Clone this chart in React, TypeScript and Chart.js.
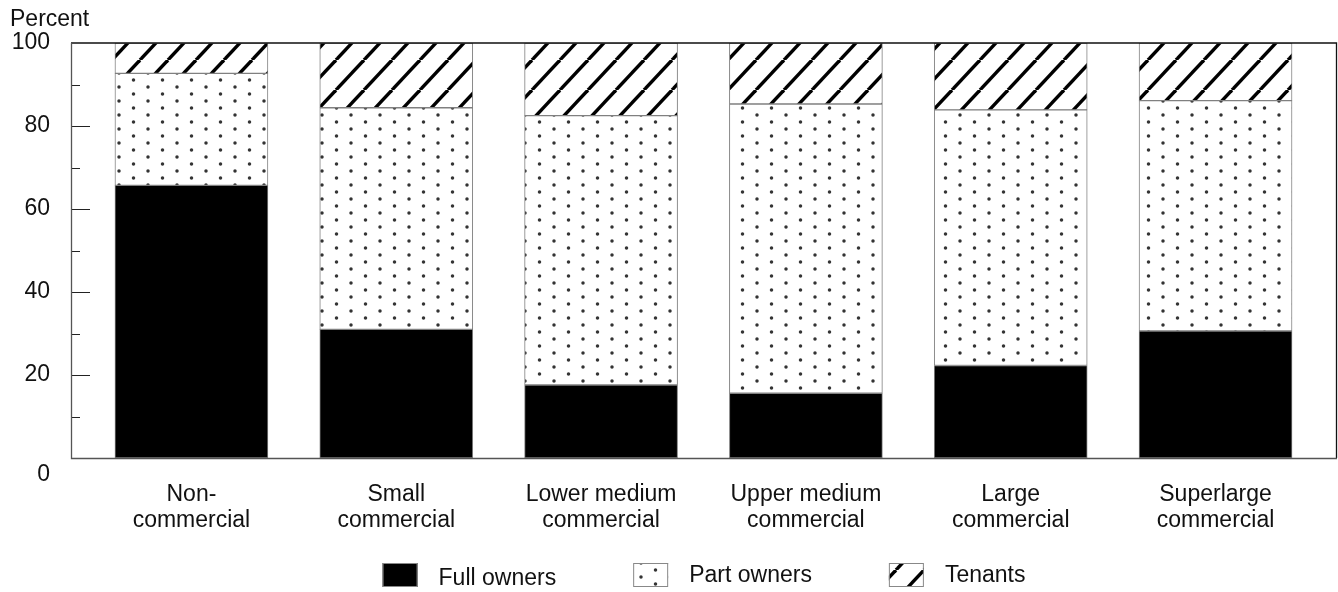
import React, { useEffect, useRef } from "react";
import { Chart, registerables } from "chart.js";

Chart.register(...registerables);

const categories: string[][] = [
  ["Non-", "commercial"],
  ["Small", "commercial"],
  ["Lower medium", "commercial"],
  ["Upper medium", "commercial"],
  ["Large", "commercial"],
  ["Superlarge", "commercial"],
];
const fullOwners = [65.7, 31.0, 17.6, 15.6, 22.3, 30.6];
const partOwners = [27.0, 53.4, 64.9, 69.7, 61.6, 55.5];
const tenants = [7.3, 15.6, 17.5, 14.7, 16.1, 13.9];
const seriesNames = ["Full owners", "Part owners", "Tenants"];
const yTickValues = [20, 40, 60, 80, 100];
const yAxisTitle = "Percent";

const FONT = "'Liberation Sans', Arial, sans-serif";
const FS = 23;
const TXT = "#111";

function makeDots(): CanvasPattern | string {
  const c = document.createElement("canvas");
  const W = 29, H = 14;
  c.width = W; c.height = H;
  const g = c.getContext("2d")!;
  g.fillStyle = "#fff";
  g.fillRect(0, 0, W, H);
  g.fillStyle = "#333";
  const pts = [[3, 3], [17.5, 10]];
  for (const [x, y] of pts) {
    g.beginPath();
    g.arc(x, y, 1.75, 0, Math.PI * 2);
    g.fill();
  }
  return g.createPattern(c, "repeat") || "#fff";
}

function makeHatch(): CanvasPattern | string {
  const c = document.createElement("canvas");
  const W = 28, H = 30;
  c.width = W; c.height = H;
  const g = c.getContext("2d")!;
  g.fillStyle = "#fff";
  g.fillRect(0, 0, W, H);
  g.strokeStyle = "#000";
  g.lineWidth = 3.4;
  for (const off of [-W, 0, W]) {
    g.beginPath();
    g.moveTo(off, H);
    g.lineTo(off + W, 0);
    g.stroke();
  }
  return g.createPattern(c, "repeat") || "#fff";
}

export default function App() {
  const ref = useRef<HTMLCanvasElement | null>(null);

  useEffect(() => {
    const canvas = ref.current;
    if (!canvas) return;
    const dots = makeDots();
    const hatch = makeHatch();
    const fills = ["#000", dots, hatch];

    const framePlugin = {
      id: "frame",
      afterDraw(chart: any) {
        const { ctx, chartArea } = chart;
        const y = chart.scales.y;
        const { left, right, top, bottom } = chartArea;
        ctx.save();
        for (let v = 10; v <= 90; v += 10) {
          const py = Math.round(y.getPixelForValue(v)) + 0.5;
          ctx.strokeStyle = "#222";
          ctx.lineWidth = 1;
          ctx.beginPath();
          ctx.moveTo(left, py);
          ctx.lineTo(left + (v % 20 === 0 ? 19 : 9), py);
          ctx.stroke();
        }
        ctx.lineWidth = 1.3;
        ctx.strokeStyle = "#111";
        ctx.beginPath();
        ctx.moveTo(left, top);
        ctx.lineTo(right - 0.5, top);
        ctx.lineTo(right - 0.5, bottom);
        ctx.stroke();
        ctx.strokeStyle = "#555";
        ctx.beginPath();
        ctx.moveTo(left + 0.5, top);
        ctx.lineTo(left + 0.5, bottom + 0.5);
        ctx.lineTo(right, bottom + 0.5);
        ctx.stroke();

        ctx.fillStyle = TXT;
        ctx.font = `${FS}px ${FONT}`;
        ctx.textAlign = "right";
        ctx.textBaseline = "middle";
        ctx.fillText("0", left - 21, y.getPixelForValue(0) + 17);

        ctx.textAlign = "left";
        ctx.fillText(yAxisTitle, 10, 20);

        const boxW = 35, boxH = 24, gap = 21, itemGap = 77;
        const widths = seriesNames.map((n) => ctx.measureText(n).width);
        const total = widths.reduce((a, w) => a + boxW + gap + w, 0) + itemGap * (seriesNames.length - 1);
        let x = (left + right) / 2 - total / 2;
        const by = 563;
        seriesNames.forEach((n, i) => {
          ctx.fillStyle = fills[i] as any;
          ctx.fillRect(x, by, boxW, boxH);
          ctx.strokeStyle = "#888";
          ctx.lineWidth = 1;
          ctx.strokeRect(x + 0.5, by + 0.5, boxW - 1, boxH - 1);
          ctx.fillStyle = TXT;
          ctx.textAlign = "left";
          ctx.textBaseline = "middle";
          ctx.fillText(n, x + boxW + gap, by + boxH / 2 + (i === 0 ? 4 : 1));
          x += boxW + gap + widths[i] + itemGap;
        });
        ctx.restore();
      },
    };

    const series = [fullOwners, partOwners, tenants];
    const chart = new Chart(canvas, {
      type: "bar",
      data: {
        datasets: series.map((vals, i) => ({
          label: seriesNames[i],
          data: vals.map((v, j) => ({ x: j, y: v })),
          backgroundColor: fills[i] as any,
          borderColor: "#808080",
          borderWidth: 1,
          borderSkipped: false,
          barThickness: 153,
        })),
      },
      options: {
        animation: false,
        responsive: false,
        events: [],
        layout: { padding: { top: 43, right: 1, left: 0, bottom: 0 } },
        plugins: { legend: { display: false }, tooltip: { enabled: false } },
        scales: {
          x: {
            type: "linear",
            stacked: true,
            offset: false,
            min: -0.588,
            max: 5.593,
            grid: { display: false, drawTicks: false },
            border: { display: false },
            afterBuildTicks: (axis: any) => {
              axis.ticks = categories.map((_, i) => ({ value: i }));
            },
            afterFit: (s: any) => {
              s.height = 134;
            },
            ticks: {
              autoSkip: false,
              maxRotation: 0,
              padding: 24,
              color: TXT,
              font: { family: FONT, size: FS, lineHeight: 1.13 },
              callback: (v: any) => categories[Math.round(v)] || "",
            },
          },
          y: {
            stacked: true,
            min: 0,
            max: 100,
            grid: { display: false, drawTicks: false },
            border: { display: false },
            afterBuildTicks: (axis: any) => {
              axis.ticks = yTickValues.map((v) => ({ value: v }));
            },
            afterFit: (s: any) => {
              s.width = 71;
            },
            ticks: {
              padding: 21,
              color: TXT,
              font: { family: FONT, size: FS },
            },
          },
        },
      },
      plugins: [framePlugin],
    });
    return () => chart.destroy();
  }, []);

  return (
    <div style={{ position: "absolute", left: 0, top: 0, width: 1338, height: 592, background: "#fff" }}>
      <canvas ref={ref} width={1338} height={592} style={{ display: "block" }} />
    </div>
  );
}
